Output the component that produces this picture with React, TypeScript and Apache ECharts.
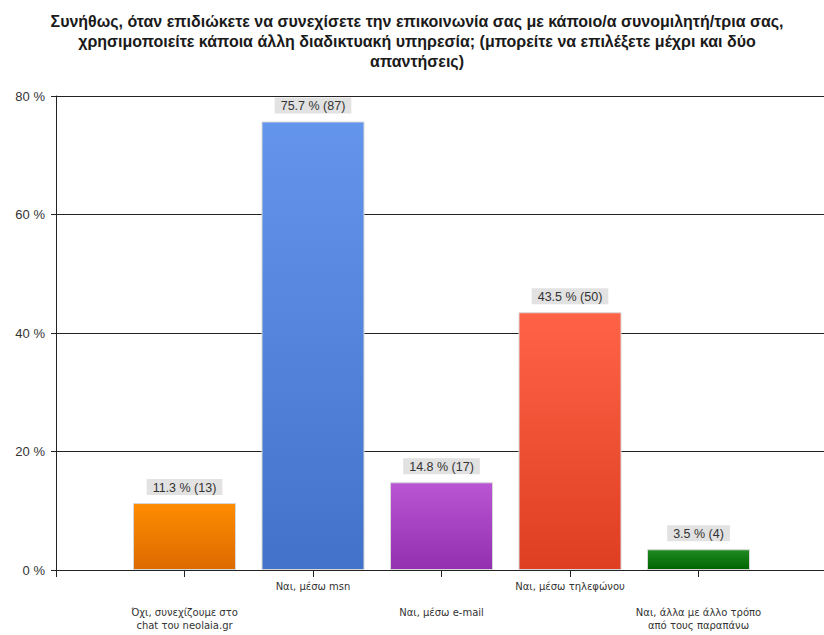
import React, { useEffect, useRef } from "react";
import * as echarts from "echarts";

const titleText =
  "Συνήθως, όταν επιδιώκετε να συνεχίσετε την επικοινωνία σας με κάποιο/α συνομιλητή/τρια σας,\nχρησιμοποιείτε κάποια άλλη διαδικτυακή υπηρεσία; (μπορείτε να επιλέξετε μέχρι και δύο\nαπαντήσεις)";

const categories = [
  "Όχι, συνεχίζουμε στο\nchat του neolaia.gr",
  "Ναι, μέσω msn",
  "Ναι, μέσω e-mail",
  "Ναι, μέσω τηλεφώνου",
  "Ναι, άλλα με άλλο τρόπο\nαπό τους παραπάνω",
];
const percents = [11.3, 75.7, 14.8, 43.5, 3.5];
const counts = [13, 87, 17, 50, 4];
const colorTop = ["#FF8C00", "#6495ED", "#BA55D3", "#FF6347", "#228B22"];
const colorBottom = ["#DC6A00", "#4372CA", "#9230B0", "#DE3E22", "#006400"];
const yTicks = [0, 20, 40, 60, 80];

export default function App() {
  const ref = useRef<HTMLDivElement>(null);
  useEffect(() => {
    if (!ref.current) return;
    const chart = echarts.init(ref.current, undefined, { renderer: "svg" });
    const xData = ["", ...categories, ""];
    const seriesData: any[] = ["-"];
    percents.forEach((v, i) => {
      seriesData.push({
        value: v,
        itemStyle: {
          color: {
            type: "linear",
            x: 0,
            y: 0,
            x2: 0,
            y2: 1,
            colorStops: [
              { offset: 0, color: colorTop[i] },
              { offset: 1, color: colorBottom[i] },
            ],
          },
        },
      });
    });
    seriesData.push("-");
    chart.setOption({
      animation: false,
      title: {
        text: titleText,
        left: 412,
        textAlign: "center",
        top: 6,
        textStyle: {
          fontFamily: "Liberation Sans, Arial, sans-serif",
          fontSize: 16,
          fontWeight: "bold",
          color: "#1a1a1a",
          lineHeight: 20,
        },
      },
      grid: { left: 56, right: 0, top: 96, bottom: 65, containLabel: false },
      xAxis: {
        type: "category",
        data: xData,
        boundaryGap: false,
        axisLine: { lineStyle: { color: "#222", width: 1 } },
        axisTick: { show: true, length: 7, interval: 0, lineStyle: { color: "#222" } },
        axisLabel: {
          interval: 0,
          margin: 10,
          fontSize: 10,
          lineHeight: 13,
          color: "#333",
          fontFamily: "DejaVu Sans, sans-serif",
          formatter: (val: string, idx: number) => {
            if (!val) return "";
            return idx % 2 === 1 ? "\n\n" + val : val;
          },
        },
      },
      yAxis: {
        type: "value",
        min: yTicks[0],
        max: yTicks[yTicks.length - 1],
        interval: 20,
        axisLine: { show: true, lineStyle: { color: "#222" } },
        axisTick: { show: true, length: 5, lineStyle: { color: "#222" } },
        splitLine: { show: true, lineStyle: { color: "#222", width: 1 } },
        axisLabel: {
          formatter: "{value} %",
          fontSize: 13,
          color: "#333",
          margin: 11,
          fontFamily: "Liberation Sans, Arial, sans-serif",
        },
      },
      series: [
        {
          type: "bar",
          data: seriesData,
          barWidth: 103,
          itemStyle: { borderColor: "#d8d8d8", borderWidth: 1 },
          label: {
            show: true,
            position: "top",
            distance: 8,
            fontSize: 12.5,
            color: "#333",
            fontFamily: "Liberation Sans, Arial, sans-serif",
            backgroundColor: "#e2e2e2",
            padding: [2, 6, 1, 6],
            formatter: (p: any) => {
              const i = p.dataIndex - 1;
              return `${percents[i]} % (${counts[i]})`;
            },
          },
        },
      ],
    });
    return () => chart.dispose();
  }, []);
  return (
    <div
      style={{ position: "absolute", left: 0, top: 0, width: 824, height: 635, overflow: "hidden", background: "#fff" }}
    >
      <div ref={ref} style={{ width: 830, height: 635 }} />
    </div>
  );
}
